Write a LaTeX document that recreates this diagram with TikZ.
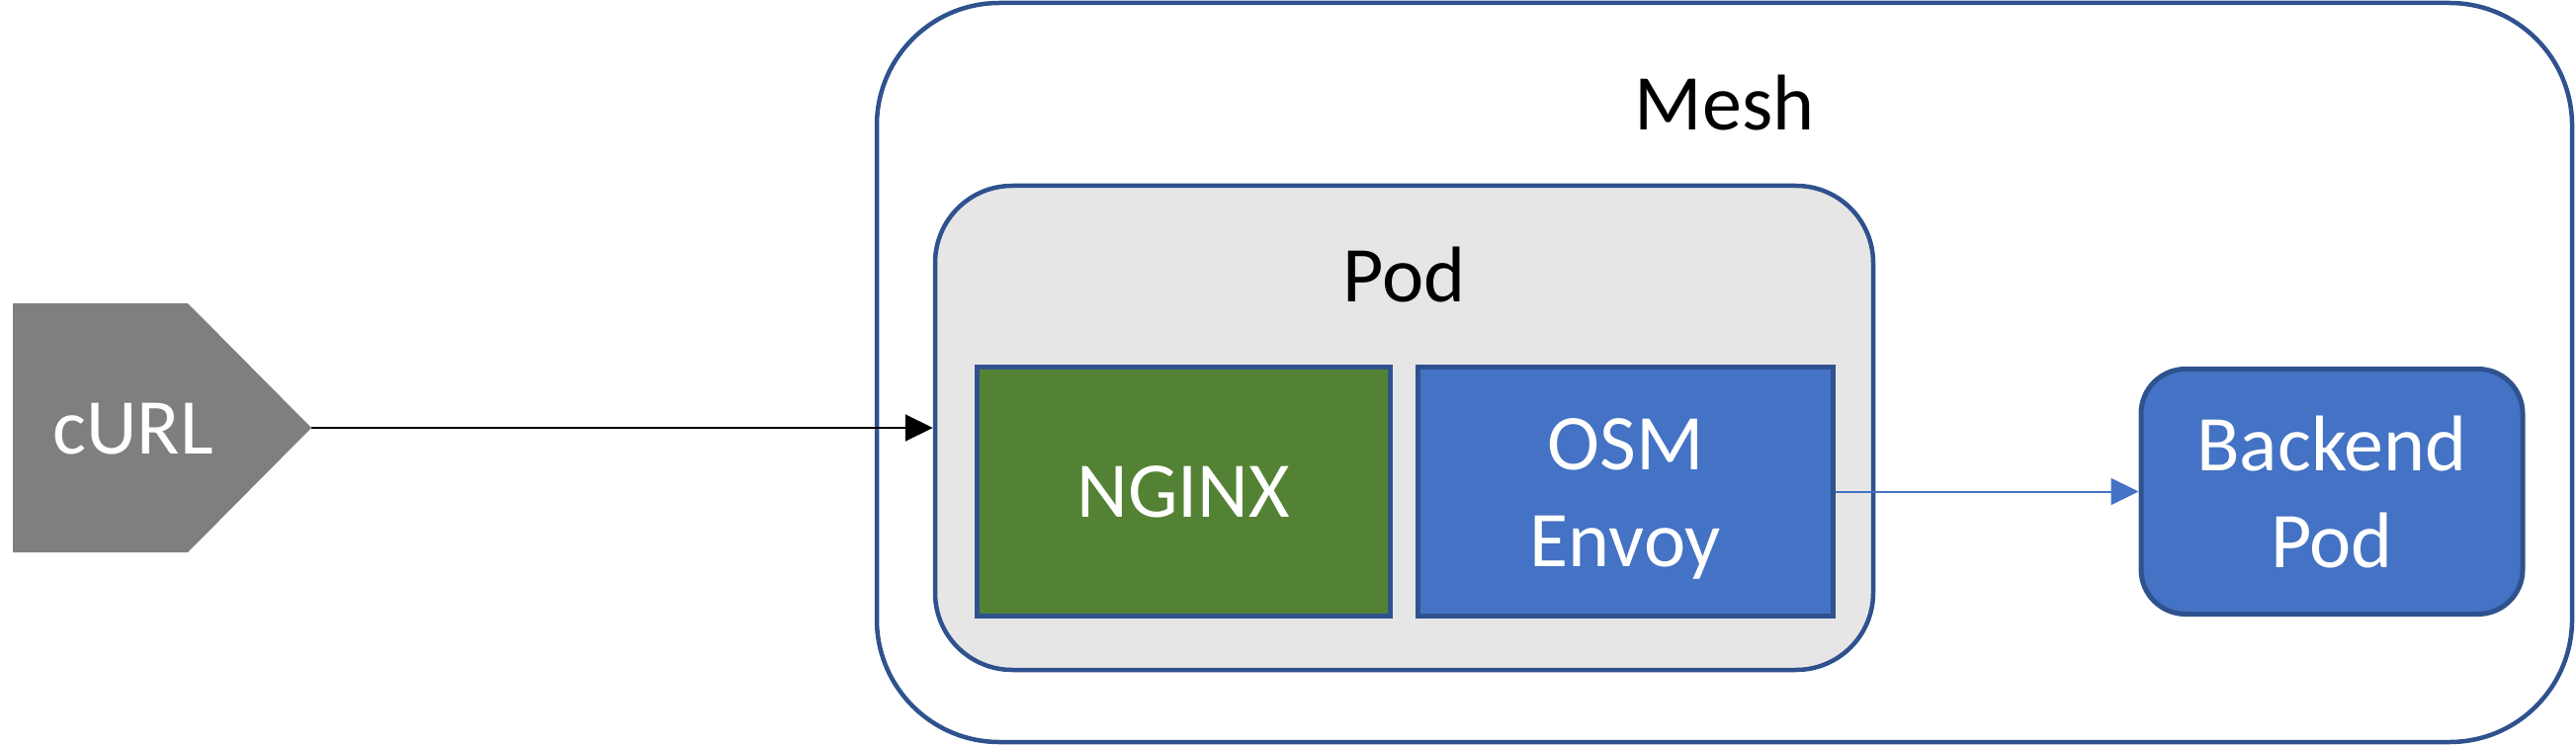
\documentclass[tikz,border=0pt]{standalone}
\usepackage{fontspec}
\setmainfont{Carlito}
\usetikzlibrary{arrows.meta}
\definecolor{edgeblue}{HTML}{2F528F}
\definecolor{fillblue}{HTML}{4472C4}
\definecolor{nginxgreen}{HTML}{548235}
\definecolor{podgray}{HTML}{E7E6E6}
\definecolor{curlgray}{HTML}{7F7F7F}
\tikzset{
  bigtext/.style={font=\fontsize{40}{49}\selectfont},
  container/.style={draw=edgeblue, line width=2.25pt, inner sep=0pt},
  compbox/.style={draw=edgeblue, line width=2.5pt, inner sep=0pt, text=white, bigtext, align=center},
  flow/.style={line width=1pt, -{Triangle[length=14pt,width=13.5pt]}},
}
\begin{document}
\begin{tikzpicture}[x=0.5pt, y=-0.5pt]
\useasboundingbox (0,0) rectangle (2606,754);
% Mesh container
\node[container, rounded corners=62pt, minimum width=857.5pt, minimum height=374pt] (mesh) at (1744.5,377) {};
\node[bigtext, anchor=base] (meshlabel) at (1744.5,132) {Mesh};
% Pod container
\node[container, fill=podgray, rounded corners=39pt, minimum width=474.5pt, minimum height=245pt] (pod) at (1420.5,433) {};
\node[bigtext, anchor=base] (podlabel) at (1420.5,306) {Pod};
% Components
\node[compbox, fill=nginxgreen, minimum width=209.25pt, minimum height=126pt] (nginx) at (1197.25,497.5) {NGINX};
\node[compbox, fill=fillblue, minimum width=210pt, minimum height=126pt] (osm) at (1644.5,497.5) {};
\node[bigtext, text=white, align=center, inner sep=0pt] (osmlabel) at (1644.5,505) {OSM\\Envoy};
\node[compbox, fill=fillblue, rounded corners=22.5pt, minimum width=193pt, minimum height=124pt] (backend) at (2359,497.5) {Backend\\Pod};
% cURL pentagon
\path[fill=curlgray] (13,307) -- (190,307) -- (315,433) -- (190,559) -- (13,559) -- cycle;
\coordinate (curltip) at (315,433);
\node[bigtext, text=white, inner sep=0pt] (curl) at (134.5,434) {cURL};
% Connectors
\draw[flow, draw=black, fill=black] (curltip) -- (pod.west);
\draw[flow, draw=fillblue, fill=fillblue] (osm.east) -- (backend.west);
\end{tikzpicture}
\end{document}
